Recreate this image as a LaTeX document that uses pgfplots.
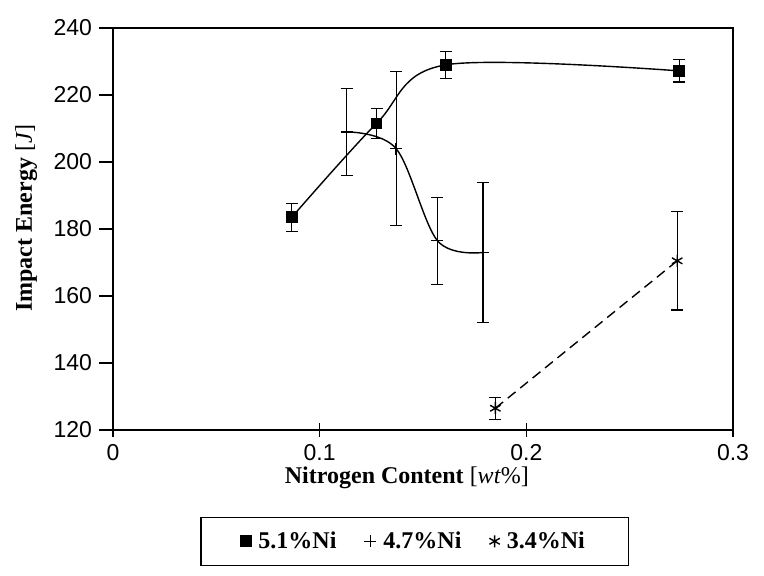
\documentclass[border=0pt]{standalone}
\usepackage{fontspec}
\setmainfont{Liberation Serif}
\newfontfamily\arialfont{Liberation Sans}
\usepackage{pgfplots}
\usepackage{pgfplotstable}
\pgfplotsset{compat=1.18}

% x = N content [wt%], y = impact energy [J], ey = error half-width
\pgfplotstableread{
x      y      ey
0.0865 183.5  4.2
0.1275 211.5  4.5
0.161  229.0  4.0
0.274  227.2  3.3
}\niA
\pgfplotstableread{
x      y      ey
0.113  209.0  13.0
0.137  204.0  23.0
0.157  176.5  13.0
0.179  173.0  21.0
}\niB
\pgfplotstableread{
x      y      ey
0.185  126.5  3.3
0.273  170.5  14.7
}\niC

\begin{document}
\begin{tikzpicture}
\useasboundingbox (-56.5pt,-72.5pt) rectangle (325.5pt,215pt);
\begin{axis}[
  scale only axis,
  width=310pt, height=201pt,
  xmin=0, xmax=0.3,
  ymin=120, ymax=240,
  xtick={0,0.1,0.2,0.3},
  xticklabels={0,0.1,0.2,0.3},
  ytick={120,140,160,180,200,220,240},
  yticklabels={120,140,160,180,200,220,240},
  axis line style={line width=0.7pt},
  x tick style={black, line width=0.6pt},
  y tick style={black, line width=0.6pt},
  xtick align=center, ytick align=outside,
  major tick length=7pt,
  xtick pos=bottom, ytick pos=left,
  ticklabel style={font=\arialfont\fontsize{11.5}{13}\selectfont},
  /pgf/number format/assume math mode=true,
  xlabel={\textbf{Nitrogen Content} [\textit{wt}\%]},
  ylabel={\textbf{Impact Energy} [\textit{J}]},
  xlabel style={font=\fontsize{12}{14}\selectfont, at={(axis description cs:0.474,-0.118)}, anchor=center},
  ylabel style={font=\fontsize{12}{14}\selectfont, at={(axis description cs:-0.14,0.527)}, anchor=center},
  legend columns=3,
  legend style={at={(axis description cs:0.487,-0.216)}, anchor=north,
    draw=black, line width=0.6pt, inner xsep=20pt, inner ysep=5pt,
    font=\bfseries\fontsize{12}{14}\selectfont,
    /tikz/every odd column/.append style={column sep=1.5pt},
    /tikz/every even column/.append style={column sep=12pt}},
  legend image code/.code={\draw[#1, only marks, line width=0.9pt] plot coordinates {(0.12cm,0cm)};},
  legend cell align=left,
]
\addplot [black, line width=0.7pt, smooth, tension=0.55, mark=square*, mark size=2.6pt,
  error bars/.cd, y dir=both, y explicit,
  error mark options={rotate=90, mark size=3pt, line width=0.6pt},
  error bar style={line width=0.6pt}]
  table [x=x, y=y, y error=ey] {\niA};
\addlegendentry{5.1\%Ni}
\addplot [black, line width=0.7pt, smooth, tension=0.55, mark=+, mark size=3pt,
  mark options={line width=0.7pt},
  error bars/.cd, y dir=both, y explicit,
  error mark options={rotate=90, mark size=3pt, line width=0.6pt},
  error bar style={line width=0.6pt}]
  table [x=x, y=y, y error=ey] {\niB};
\addlegendentry{4.7\%Ni}
\addplot [black, line width=0.7pt, dashed, dash pattern=on 5pt off 3pt, mark=asterisk, mark size=3pt,
  mark options={solid, line width=0.7pt},
  error bars/.cd, y dir=both, y explicit,
  error mark options={rotate=90, mark size=3pt, line width=0.6pt, solid},
  error bar style={line width=0.6pt, solid}]
  table [x=x, y=y, y error=ey] {\niC};
\addlegendentry{3.4\%Ni}
\end{axis}
\end{tikzpicture}
\end{document}
